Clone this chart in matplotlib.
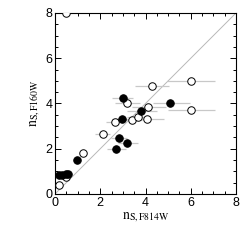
import matplotlib
matplotlib.use("Agg")
import matplotlib.pyplot as plt
import numpy as np
from matplotlib.ticker import MultipleLocator

# open circles
open_x = [0.47, 0.19, 0.47, 1.25, 2.12, 2.64, 3.17, 3.39, 3.65, 4.05, 4.09, 4.29, 6.01, 6.01]
open_y = [8.0, 0.38, 0.77, 1.79, 2.63, 3.16, 4.04, 3.25, 3.38, 3.31, 3.85, 4.78, 5.00, 3.72]
open_xlo = [0.0, 0.0, 0.0, 0.0, 0.35, 0.40, 0.50, 0.40, 0.45, 0.65, 0.70, 0.75, 1.05, 1.00]
open_xhi = [0.0, 0.0, 0.0, 0.0, 0.30, 0.40, 0.60, 0.45, 0.55, 0.75, 0.80, 0.75, 1.05, 1.05]

# filled circles
fill_x = [0.19, 0.30, 0.47, 0.57, 0.99, 2.70, 2.81, 3.17, 2.95, 3.00, 3.81, 5.08]
fill_y = [0.83, 0.83, 0.89, 0.90, 1.52, 2.00, 2.49, 2.27, 3.32, 4.22, 3.67, 4.00]
fill_xlo = [0.0, 0.0, 0.0, 0.0, 0.0, 0.40, 0.35, 0.40, 0.45, 0.50, 0.65, 0.75]
fill_xhi = [0.0, 0.0, 0.0, 0.0, 0.0, 0.45, 0.35, 0.50, 0.45, 0.45, 0.70, 0.90]

plt.rcParams['mathtext.fontset'] = 'stix'
plt.rcParams['font.family'] = ['Liberation Sans', 'DejaVu Sans']

fig = plt.figure(figsize=(2.49, 2.49), dpi=100)
ax = fig.add_axes([0.221, 0.221, 0.727, 0.727])

ax.plot([0, 8], [0, 8], color='#b8b8b8', lw=0.7, zorder=1)

ax.errorbar(open_x, open_y, xerr=[open_xlo, open_xhi], fmt='none',
            ecolor='#c8c8c8', elinewidth=0.9, capsize=0, zorder=2)
ax.errorbar(fill_x, fill_y, xerr=[fill_xlo, fill_xhi], fmt='none',
            ecolor='#c8c8c8', elinewidth=0.9, capsize=0, zorder=2)

ax.plot(open_x, open_y, 'o', ms=5.4, mfc='white', mec='black', mew=0.7,
        zorder=3)
ax.plot(fill_x, fill_y, 'o', ms=5.4, mfc='black', mec='black', mew=0.7,
        zorder=4)

ax.set_xlim(0, 8)
ax.set_ylim(0, 8)
ax.xaxis.set_major_locator(MultipleLocator(2))
ax.yaxis.set_major_locator(MultipleLocator(2))
ax.xaxis.set_minor_locator(MultipleLocator(0.5))
ax.yaxis.set_minor_locator(MultipleLocator(0.5))
ax.tick_params(which='both', direction='in', top=True, right=True,
               labelsize=9, width=0.7, pad=2)
ax.tick_params(which='major', length=4.5)
ax.tick_params(which='minor', length=2.5)
for s in ax.spines.values():
    s.set_linewidth(0.8)

ax.set_xlabel(r'$\mathrm{n}_{\mathrm{S,F814W}}$', fontsize=10, labelpad=1)
ax.set_ylabel(r'$\mathrm{n}_{\mathrm{S,F160W}}$', fontsize=10, labelpad=2)

fig.savefig('out.png', dpi=100)
